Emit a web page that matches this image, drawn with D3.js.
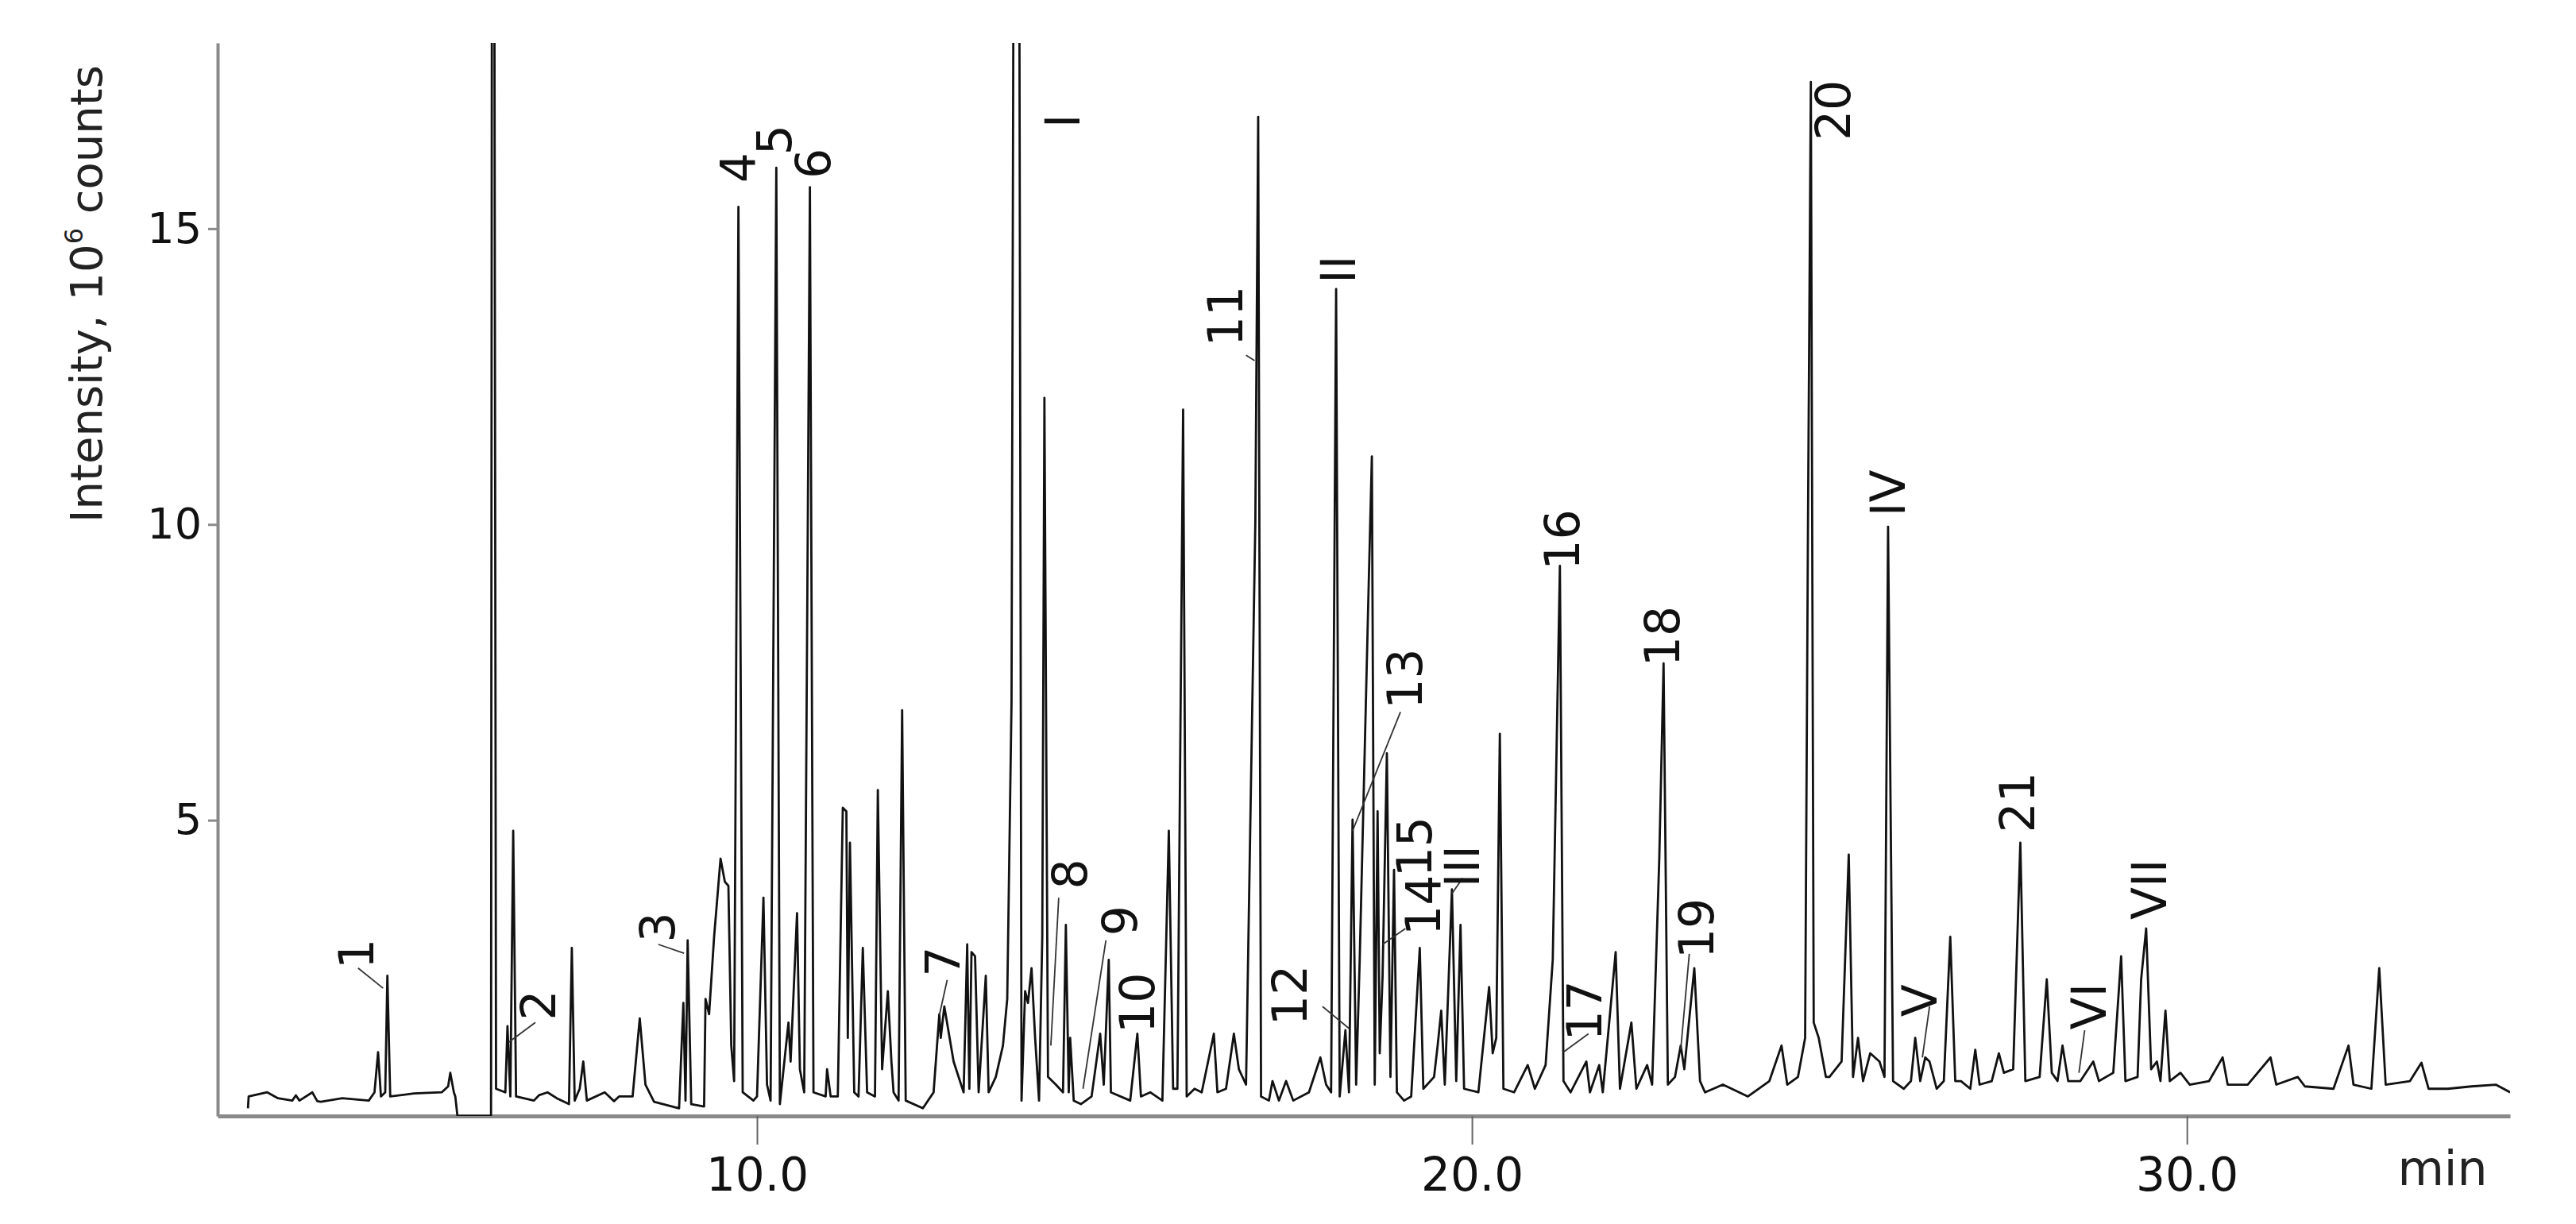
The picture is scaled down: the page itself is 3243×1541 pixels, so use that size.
<!DOCTYPE html>
<html>
<head>
<meta charset="utf-8">
<script src="https://cdn.jsdelivr.net/npm/d3@7"></script>
<style>
  body { margin: 0; background: #fff; }
  text { font-family: 'DejaVu Sans', sans-serif; }
</style>
</head>
<body>
<svg id="vis" width="3243" height="1541"></svg>
<script>
// retention time (min), intensity (10^6 counts); values above the top are clipped
const trace = [
  [2.88,0.13],[2.89,0.33],[3.15,0.40],[3.3,0.3],[3.5,0.26],[3.55,0.35],[3.6,0.26],[3.78,0.4],[3.85,0.25],[3.9,0.24],
  [4.2,0.3],[4.57,0.26],[4.65,0.4],[4.70,1.08],[4.74,0.33],[4.80,0.4],[4.83,2.37],[4.87,0.33],[5.2,0.38],[5.59,0.40],
  [5.68,0.5],[5.71,0.73],[5.76,0.4],[5.78,0.33],[5.81,0],[6.28,0],[6.295,25],[6.32,25],[6.35,0.46],[6.48,0.40],
  [6.51,1.52],[6.55,0.33],[6.59,4.82],[6.63,0.33],[6.88,0.26],[6.95,0.35],[7.07,0.40],[7.2,0.3],[7.37,0.20],[7.41,2.84],
  [7.45,0.26],[7.52,0.46],[7.57,0.92],[7.62,0.26],[7.87,0.4],[8.0,0.25],[8.07,0.33],[8.26,0.33],[8.36,1.65],[8.44,0.53],
  [8.56,0.24],[8.91,0.13],[8.97,1.91],[9.0,0.26],[9.03,2.97],[9.08,0.2],[9.26,0.16],[9.28,1.98],[9.33,1.72],[9.40,3.03],
  [9.49,4.35],[9.55,3.96],[9.60,3.89],[9.64,1.19],[9.68,0.59],[9.74,15.37],[9.80,0.40],[9.95,0.26],[10.0,0.33],[10.09,3.69],
  [10.14,0.53],[10.19,0.26],[10.27,16.03],[10.32,0.2],[10.44,1.58],[10.47,0.92],[10.56,3.43],[10.60,0.79],[10.66,0.40],[10.74,15.7],
  [10.79,0.40],[10.96,0.33],[10.98,0.79],[11.03,0.33],[11.13,0.33],[11.20,5.21],[11.25,5.15],[11.27,1.32],[11.30,4.62],[11.36,0.40],
  [11.42,0.33],[11.48,2.84],[11.54,0.40],[11.65,0.33],[11.69,5.51],[11.75,0.79],[11.83,2.11],[11.88,0.92],[11.91,0.40],[11.98,0.26],
  [12.03,6.86],[12.08,0.26],[12.32,0.13],[12.47,0.40],[12.55,1.72],[12.57,1.32],[12.62,1.85],[12.75,0.92],[12.89,0.40],[12.94,2.9],
  [12.97,0.46],[13.0,2.77],[13.05,2.7],[13.10,0.40],[13.2,2.37],[13.24,0.40],[13.34,0.66],[13.44,1.19],[13.50,1.98],[13.56,7],
  [13.60,25],[13.66,25],[13.70,0.26],[13.75,2.11],[13.79,1.91],[13.84,2.5],[13.89,1.32],[13.945,0.26],[13.99,3.03],[14.02,12.14],
  [14.07,0.66],[14.18,0.53],[14.28,0.4],[14.32,3.23],[14.36,0.4],[14.38,1.32],[14.43,0.26],[14.53,0.2],[14.68,0.33],[14.80,1.39],
  [14.85,0.53],[14.92,2.64],[14.95,0.40],[15.22,0.26],[15.32,1.39],[15.37,0.33],[15.50,0.40],[15.67,0.26],[15.76,4.82],[15.82,0.46],
  [15.88,0.46],[15.96,11.94],[16.01,0.33],[16.12,0.46],[16.22,0.40],[16.39,1.39],[16.44,0.40],[16.56,0.46],[16.67,1.39],[16.74,0.79],
  [16.84,0.53],[16.91,5.68],[16.97,10.03],[17.01,16.89],[17.05,0.33],[17.16,0.26],[17.21,0.59],[17.30,0.26],[17.40,0.59],[17.50,0.26],
  [17.72,0.40],[17.88,0.99],[17.96,0.53],[18.03,0.40],[18.10,13.98],[18.15,0.33],[18.23,1.45],[18.28,0.40],[18.33,5.01],[18.38,0.53],
  [18.43,2.64],[18.55,8.7],[18.6,11.15],[18.64,0.53],[18.68,5.15],[18.71,1.06],[18.75,2.37],[18.81,6.13],[18.86,0.66],[18.91,4.16],
  [18.95,0.40],[19.05,0.26],[19.15,0.33],[19.27,2.84],[19.32,0.46],[19.47,0.66],[19.52,1.19],[19.57,1.78],[19.62,0.53],[19.72,3.83],
  [19.78,0.59],[19.84,3.23],[19.89,0.46],[20.09,0.40],[20.24,2.18],[20.29,1.06],[20.34,1.32],[20.39,6.46],[20.44,0.46],[20.59,0.40],
  [20.78,0.86],[20.88,0.46],[21.03,0.86],[21.13,2.64],[21.23,9.3],[21.28,0.59],[21.38,0.40],[21.60,0.92],[21.65,0.40],[21.78,0.86],
  [21.83,0.40],[22.01,2.77],[22.07,0.46],[22.23,1.58],[22.30,0.46],[22.45,0.86],[22.52,0.53],[22.62,4.35],[22.68,7.65],[22.74,0.53],
  [22.84,0.66],[22.92,1.19],[22.97,0.79],[23.11,2.5],[23.19,0.59],[23.26,0.40],[23.51,0.53],[23.86,0.33],[24.16,0.59],[24.33,1.19],
  [24.41,0.53],[24.56,0.66],[24.66,1.32],[24.70,10],[24.74,17.48],[24.78,1.58],[24.85,1.32],[24.95,0.66],[25.0,0.66],[25.17,0.92],
  [25.27,4.42],[25.33,0.66],[25.40,1.32],[25.47,0.59],[25.57,1.06],[25.70,0.92],[25.77,0.66],[25.82,9.96],[25.89,0.59],[26.04,0.46],
  [26.14,0.59],[26.20,1.32],[26.27,0.59],[26.34,0.99],[26.40,0.92],[26.50,0.46],[26.60,0.59],[26.69,3.03],[26.76,0.59],[26.84,0.59],
  [26.97,0.46],[27.04,1.12],[27.10,0.53],[27.27,0.59],[27.37,1.06],[27.44,0.73],[27.57,0.79],[27.67,4.62],[27.74,0.59],[27.94,0.66],
  [28.04,2.31],[28.11,0.73],[28.19,0.59],[28.26,1.19],[28.34,0.59],[28.51,0.59],[28.69,0.92],[28.77,0.59],[28.97,0.73],[29.08,2.7],
  [29.14,0.59],[29.31,0.66],[29.36,2.31],[29.43,3.17],[29.50,0.79],[29.58,0.92],[29.63,0.59],[29.70,1.78],[29.76,0.59],[29.91,0.73],
  [30.04,0.53],[30.31,0.59],[30.50,0.99],[30.57,0.53],[30.85,0.53],[31.17,0.99],[31.25,0.53],[31.55,0.66],[31.65,0.50],[32.05,0.46],
  [32.26,1.19],[32.33,0.53],[32.58,0.46],[32.69,2.5],[32.78,0.53],[33.12,0.59],[33.28,0.90],[33.38,0.46],[33.65,0.46],[33.98,0.50],
  [34.32,0.53],[34.52,0.40]
];

// peak labels: text, centre position (min, 10^6 counts)
const peakLabels = [
  ['1',4.40,2.74],['2',6.95,1.87],['3',8.61,3.19],['4',9.73,16.03],['5',10.24,16.5],['6',10.79,16.1],
  ['I',14.28,16.82],['7',12.60,2.61],['8',14.38,4.09],['9',15.08,3.3],['10',15.32,1.91],['11',16.56,13.52],
  ['12',17.46,2.04],['II',18.13,14.31],['13',19.07,7.39],['15',19.20,4.55],['14',19.32,3.56],['III',19.87,4.22],
  ['16',21.26,9.74],['17',21.58,1.78],['18',22.67,8.11],['19',23.14,3.17],['20',25.05,17.0],['IV',25.82,10.53],
  ['V',26.27,1.95],['21',27.63,5.3],['VI',28.63,1.85],['VII',29.48,3.83]
];

// leader lines from label to peak: [t1, v1, t2, v2]
const leaders = [
  [4.42,2.5,4.77,2.16],[6.90,1.58,6.53,1.25],[8.62,2.9,8.98,2.75],[12.66,2.3,12.55,1.7],
  [14.22,3.69,14.11,1.19],[14.88,2.97,14.56,0.46],[16.84,12.86,16.96,12.77],[17.91,1.85,18.28,1.48],
  [19.0,6.83,18.33,4.82],[19.07,3.17,18.75,2.9],[19.87,4.02,19.72,3.76],[21.63,1.39,21.28,1.08],
  [23.04,2.74,22.92,1.12],[26.40,1.85,26.30,0.99],[28.57,1.45,28.49,0.73]
];

const xTicks = [10, 20, 30];
const yTicks = [5, 10, 15];

const svg = d3.select('#vis');
const margin = { top: 54, left: 274, right: 3160, bottom: 1405 };

const x = d3.scaleLinear().domain([2.456, 34.52]).range([margin.left, margin.right]);
const y = d3.scaleLinear().domain([0, 18.14]).range([margin.bottom, margin.top]);

svg.append('clipPath').attr('id', 'clip')
  .append('rect')
  .attr('x', margin.left).attr('y', margin.top)
  .attr('width', margin.right - margin.left).attr('height', margin.bottom - margin.top);

// x axis
const xAxis = svg.append('g')
  .attr('transform', `translate(0,${margin.bottom})`)
  .call(d3.axisBottom(x).tickValues(xTicks).tickSize(36).tickSizeOuter(0).tickFormat(d3.format('.1f')));
xAxis.select('.domain').attr('stroke', '#8a8a8a').attr('stroke-width', 5);
xAxis.selectAll('.tick line').attr('stroke', '#666').attr('stroke-width', 2);
xAxis.selectAll('.tick text').attr('font-size', 58).attr('fill', '#111').attr('dy', '0.95em')
  .attr('font-family', "'DejaVu Sans', sans-serif");

// y axis
const yAxis = svg.append('g')
  .attr('transform', `translate(${margin.left},0)`)
  .call(d3.axisLeft(y).tickValues(yTicks).tickSize(12).tickSizeOuter(0));
yAxis.select('.domain').attr('stroke', '#8a8a8a').attr('stroke-width', 4);
yAxis.selectAll('.tick line').attr('stroke', '#8a8a8a').attr('stroke-width', 3);
yAxis.selectAll('.tick text').attr('font-size', 54).attr('fill', '#111').attr('x', -20)
  .attr('font-family', "'DejaVu Sans', sans-serif");

svg.append('text')
  .attr('x', 3075).attr('y', 1492)
  .attr('text-anchor', 'middle')
  .attr('font-size', 60).attr('fill', '#222')
  .text('min');

const yl = svg.append('text')
  .attr('transform', 'translate(128,370) rotate(-90)')
  .attr('text-anchor', 'middle')
  .attr('font-size', 56).attr('fill', '#222');
yl.append('tspan').text('Intensity, 10');
yl.append('tspan').attr('font-size', 32).attr('dy', -24).text('6');
yl.append('tspan').attr('dy', 24).text(' counts');

// trace
svg.append('path')
  .datum(trace)
  .attr('clip-path', 'url(#clip)')
  .attr('fill', 'none')
  .attr('stroke', '#111')
  .attr('stroke-width', 2.8)
  .attr('stroke-linejoin', 'round')
  .attr('d', d3.line().x(d => x(d[0])).y(d => y(d[1])));

// leader lines
svg.selectAll('line.leader')
  .data(leaders)
  .enter()
  .append('line')
  .attr('class', 'leader')
  .attr('x1', d => x(d[0])).attr('y1', d => y(d[1]))
  .attr('x2', d => x(d[2])).attr('y2', d => y(d[3]))
  .attr('stroke', '#333').attr('stroke-width', 1.8);

// peak labels
svg.selectAll('text.peak')
  .data(peakLabels)
  .enter()
  .append('text')
  .attr('class', 'peak')
  .attr('transform', d => `translate(${x(d[1])},${y(d[2])}) rotate(-90)`)
  .attr('text-anchor', 'middle')
  .attr('dominant-baseline', 'central')
  .attr('font-size', 60)
  .attr('fill', '#111')
  .text(d => d[0]);
</script>
</body>
</html>
